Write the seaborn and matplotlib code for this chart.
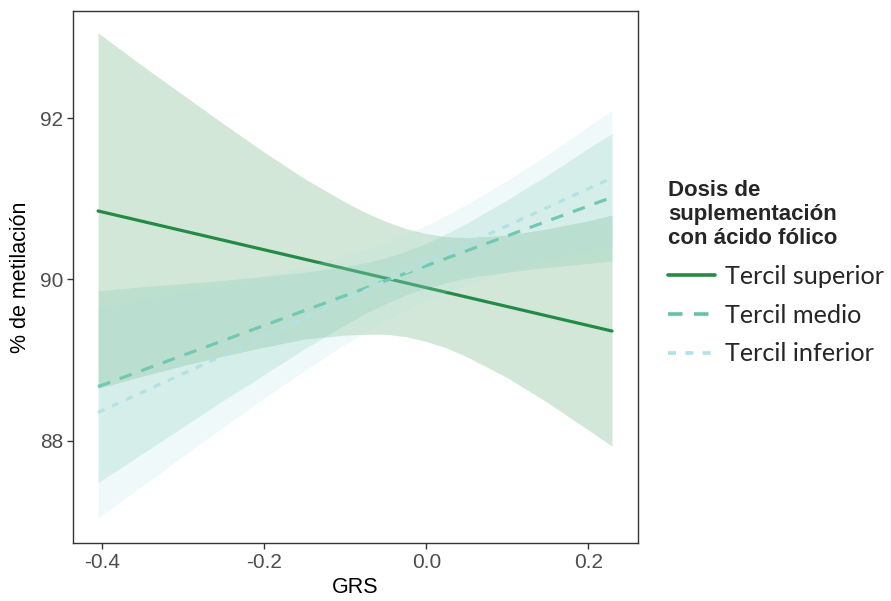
import matplotlib
matplotlib.use("Agg")
import matplotlib.pyplot as plt
from matplotlib.lines import Line2D
import seaborn as sns
import numpy as np
import pandas as pd

# ---- data ----
grs_line = [-0.405, 0.229]
sup_line = [90.85, 89.36]
med_line = [88.67, 91.02]
inf_line = [88.35, 91.26]

grs_band = [-0.405, -0.35, -0.3, -0.25, -0.2, -0.15, -0.1, -0.075, -0.05, -0.025, 0.0, 0.025, 0.05, 0.1, 0.15, 0.2, 0.229]
sup_lo = [88.65, 88.80, 88.93, 89.05, 89.16, 89.26, 89.31, 89.32, 89.32, 89.29, 89.23, 89.15, 89.04, 88.78, 88.47, 88.13, 87.93]
sup_hi = [93.06, 92.65, 92.29, 91.93, 91.58, 91.25, 90.96, 90.83, 90.72, 90.63, 90.57, 90.53, 90.52, 90.55, 90.63, 90.73, 90.80]
med_lo = [87.48, 87.84, 88.17, 88.50, 88.82, 89.14, 89.44, 89.58, 89.70, 89.81, 89.89, 89.96, 90.02, 90.09, 90.15, 90.20, 90.23]
med_hi = [89.86, 89.91, 89.95, 89.99, 90.04, 90.09, 90.16, 90.21, 90.27, 90.35, 90.45, 90.57, 90.70, 90.99, 91.30, 91.63, 91.81]
inf_lo = [87.04, 87.44, 87.81, 88.17, 88.53, 88.87, 89.20, 89.35, 89.49, 89.62, 89.74, 89.85, 89.94, 90.10, 90.24, 90.35, 90.41]
inf_hi = [89.66, 89.75, 89.85, 89.94, 90.05, 90.16, 90.30, 90.38, 90.46, 90.56, 90.67, 90.80, 90.93, 91.23, 91.55, 91.90, 92.10]

groups = ["Tercil superior", "Tercil medio", "Tercil inferior"]
x_ticks = [-0.4, -0.2, 0.0, 0.2]
y_ticks = [88, 90, 92]

# ---- styling ----
sns.set_theme(style="white")
plt.rcParams["font.family"] = ["Liberation Sans", "DejaVu Sans"]

colors = ["#238b45", "#66c2a4", "#b2e2e2"]
dash_styles = ["-", (0, (4, 3.2)), (0, (2.2, 2.6))]
lw = 2.3

fig = plt.figure(figsize=(8.91, 6.01), dpi=100)
ax = fig.add_axes([72.7 / 891, 1 - 543 / 601, (637.7 - 72.7) / 891, (543 - 10.7) / 601])

lines_y = [sup_line, med_line, inf_line]
los = [sup_lo, med_lo, inf_lo]
his = [sup_hi, med_hi, inf_hi]

z = 2
for g, col, ds, ly, lo, hi in zip(groups, colors, dash_styles, lines_y, los, his):
    ax.fill_between(grs_band, lo, hi, color=col, alpha=0.2, linewidth=0, zorder=z)
    df = pd.DataFrame({"GRS": grs_line, "y": ly})
    sns.lineplot(data=df, x="GRS", y="y", color=col, linewidth=lw, linestyle=ds,
                 ax=ax, zorder=z + 1, legend=False)
    z += 2

ax.set_xlim(-0.4363, 0.2607)
ax.set_ylim(86.73, 93.335)
ax.set_xticks(x_ticks)
ax.set_xticklabels(["-0.4", "-0.2", "0.0", "0.2"])
ax.set_yticks(y_ticks)
ax.set_yticklabels([str(v) for v in y_ticks])
ax.tick_params(axis="both", which="major", length=4, width=1.0, color="#333333",
               labelsize=15, labelcolor="#4d4d4d", pad=3, direction="out",
               bottom=True, left=True)
for sp in ax.spines.values():
    sp.set_color("#333333")
    sp.set_linewidth(1.0)
    sp.set_visible(True)
ax.grid(False)
ax.set_xlabel("GRS", fontsize=15.5, color="black", labelpad=4)
ax.set_ylabel("% de metilación", fontsize=15.5, color="black", labelpad=6)

handles = [Line2D([0], [0], color=c, linewidth=lw + 0.3, linestyle=d) for c, d in zip(colors, dash_styles)]
leg = fig.legend(handles, groups, loc="upper left", bbox_to_anchor=(668 / 891, 1 - 180 / 601),
                 frameon=False, title="Dosis de\nsuplementación\ncon ácido fólico",
                 title_fontproperties={"family": "Liberation Sans", "weight": "bold", "size": 16},
                 prop={"family": "Lato", "size": 18.2}, handlelength=1.85, handletextpad=0.4,
                 labelspacing=0.62, alignment="left", borderaxespad=0, borderpad=0)

fig.savefig("out.png", dpi=100)
